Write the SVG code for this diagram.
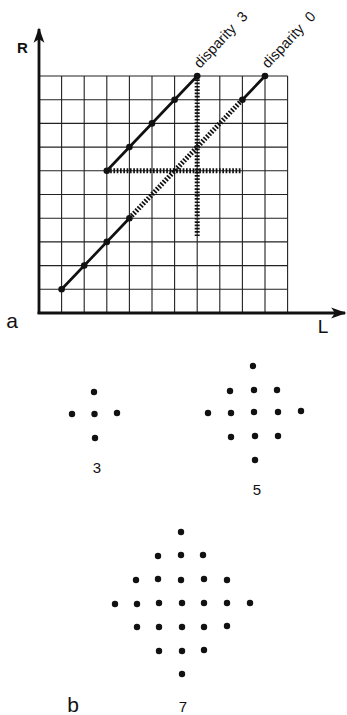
<svg xmlns="http://www.w3.org/2000/svg" width="347" height="715" viewBox="0 0 347 715">
<defs>
<style>
.grid{stroke:#222;stroke-width:1.1;fill:none}
.axis{stroke:#111;stroke-width:2.8;fill:none}
.solid{stroke:#111;stroke-width:2.7;fill:none;stroke-linecap:round}
.dot{stroke:#111;stroke-width:5;fill:none;stroke-dasharray:1.7 1.6}
.pt{fill:#111}
.lbl{font-family:"Liberation Sans",Arial,sans-serif;fill:#111}
</style>
<marker id="arr" viewBox="0 0 10 10" refX="9" refY="5" markerWidth="5.5" markerHeight="5.5" markerUnits="strokeWidth" orient="auto">
<path d="M0,1.5 L10,5 L0,8.5 L2.5,5 Z" fill="#111"/>
</marker>
</defs>
<rect width="347" height="715" fill="#fff"/>
<g id="grid" class="grid">
<path d="M39,76H287.6M39,99.7H287.6M39,123.4H287.6M39,147.1H287.6M39,170.8H287.6M39,194.5H287.6M39,218.2H287.6M39,241.9H287.6M39,265.6H287.6M39,289.3H287.6"/>
<path d="M61.6,76V313M84.2,76V313M106.8,76V313M129.4,76V313M152,76V313M174.6,76V313M197.2,76V313M219.8,76V313M242.4,76V313M265,76V313M287.6,76V313"/>
</g>
<g id="axes">
<line class="axis" x1="39" y1="314" x2="39" y2="29" marker-end="url(#arr)"/>
<line class="axis" x1="37.6" y1="313" x2="345" y2="313" marker-end="url(#arr)"/>
</g>
<g id="connectors">
<path class="dot" d="M129.4,218.2L242.4,99.7"/>
<path class="dot" d="M106.8,170.8H242.4"/>
<path class="dot" d="M197.2,76V237"/>
<path class="solid" d="M61.6,289.3L129.4,218.2"/>
<path class="solid" d="M242.4,99.7L265,76"/>
<path class="solid" d="M106.8,170.8L197.2,76"/>
</g>
<g id="disparity0">
<circle class="pt" cx="61.6" cy="289.3" r="3.3"/>
<circle class="pt" cx="84.2" cy="265.6" r="3.3"/>
<circle class="pt" cx="106.8" cy="241.9" r="3.3"/>
<circle class="pt" cx="129.4" cy="218.2" r="3.3"/>
<circle class="pt" cx="242.4" cy="99.7" r="3.3"/>
<circle class="pt" cx="265" cy="76" r="3.3"/>
<text class="lbl" font-size="14.5" transform="translate(268,69) rotate(-47)">disparity<tspan dx="9">0</tspan></text>
</g>
<g id="disparity3">
<circle class="pt" cx="106.8" cy="170.8" r="3.3"/>
<circle class="pt" cx="129.4" cy="147.1" r="3.3"/>
<circle class="pt" cx="152" cy="123.4" r="3.3"/>
<circle class="pt" cx="174.6" cy="99.7" r="3.3"/>
<circle class="pt" cx="197.2" cy="76" r="3.3"/>
<text class="lbl" font-size="14.5" transform="translate(200,69) rotate(-47)">disparity<tspan dx="9">3</tspan></text>
</g>
<g id="labels">
<text class="lbl" font-size="15" font-weight="bold" x="22.5" y="53" text-anchor="middle">R</text>
<text class="lbl" font-size="19" x="323" y="333" text-anchor="middle">L</text>
<text class="lbl" font-size="21" x="12" y="328" text-anchor="middle">a</text>
<text class="lbl" font-size="21" x="73" y="712" text-anchor="middle">b</text>
</g>
<g id="pattern3">
<circle class="pt" cx="94" cy="392" r="3.2"/>
<circle class="pt" cx="72" cy="414" r="3.2"/>
<circle class="pt" cx="94.5" cy="414" r="3.2"/>
<circle class="pt" cx="117" cy="413" r="3.2"/>
<circle class="pt" cx="95" cy="438" r="3.2"/>
<text class="lbl" font-size="15" x="97" y="473" text-anchor="middle">3</text>
</g>
<g id="pattern5">
<circle class="pt" cx="253" cy="366" r="3.2"/>
<circle class="pt" cx="230" cy="391" r="3.2"/>
<circle class="pt" cx="254" cy="390" r="3.2"/>
<circle class="pt" cx="277" cy="390" r="3.2"/>
<circle class="pt" cx="208" cy="413" r="3.2"/>
<circle class="pt" cx="231" cy="413" r="3.2"/>
<circle class="pt" cx="254" cy="412" r="3.2"/>
<circle class="pt" cx="278" cy="412" r="3.2"/>
<circle class="pt" cx="301" cy="411" r="3.2"/>
<circle class="pt" cx="231" cy="437" r="3.2"/>
<circle class="pt" cx="255" cy="436" r="3.2"/>
<circle class="pt" cx="278" cy="436" r="3.2"/>
<circle class="pt" cx="255" cy="460" r="3.2"/>
<text class="lbl" font-size="15" x="257" y="495" text-anchor="middle">5</text>
</g>
<g id="pattern7">
<circle class="pt" cx="181" cy="532" r="3.2"/>
<circle class="pt" cx="158" cy="556" r="3.2"/>
<circle class="pt" cx="181" cy="555" r="3.2"/>
<circle class="pt" cx="203" cy="555" r="3.2"/>
<circle class="pt" cx="136" cy="580" r="3.2"/>
<circle class="pt" cx="158" cy="579" r="3.2"/>
<circle class="pt" cx="181" cy="580" r="3.2"/>
<circle class="pt" cx="204" cy="579" r="3.2"/>
<circle class="pt" cx="227" cy="580" r="3.2"/>
<circle class="pt" cx="115" cy="604" r="3.2"/>
<circle class="pt" cx="137" cy="604" r="3.2"/>
<circle class="pt" cx="159" cy="603" r="3.2"/>
<circle class="pt" cx="182" cy="603" r="3.2"/>
<circle class="pt" cx="204" cy="603" r="3.2"/>
<circle class="pt" cx="227" cy="603" r="3.2"/>
<circle class="pt" cx="250" cy="603" r="3.2"/>
<circle class="pt" cx="137" cy="627" r="3.2"/>
<circle class="pt" cx="159" cy="627" r="3.2"/>
<circle class="pt" cx="182" cy="627" r="3.2"/>
<circle class="pt" cx="204" cy="627" r="3.2"/>
<circle class="pt" cx="227" cy="626" r="3.2"/>
<circle class="pt" cx="159" cy="651" r="3.2"/>
<circle class="pt" cx="182" cy="651" r="3.2"/>
<circle class="pt" cx="204" cy="650" r="3.2"/>
<circle class="pt" cx="182" cy="674" r="3.2"/>
<text class="lbl" font-size="15" x="183" y="712" text-anchor="middle">7</text>
</g>
</svg>
